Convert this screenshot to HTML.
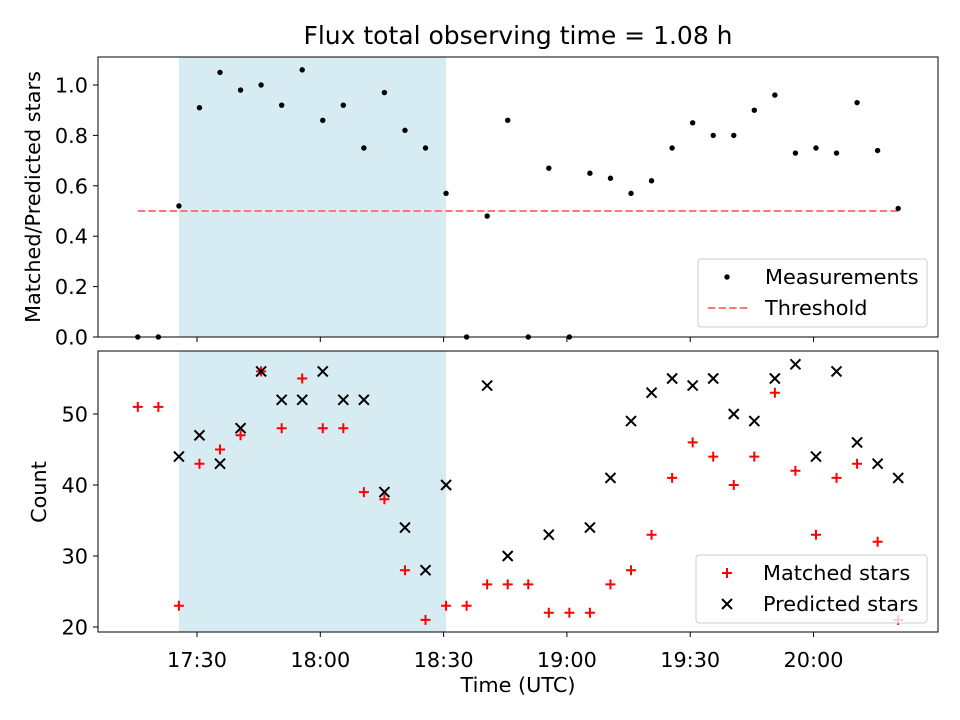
<!DOCTYPE html>
<html><head><meta charset="utf-8"><style>body{margin:0;background:#fff}svg{display:block;font-family:"DejaVu Sans","Liberation Sans",sans-serif}</style></head>
<body>
<svg id="c" width="960" height="720" xmlns="http://www.w3.org/2000/svg"></svg>
<script>
const times = [];
const t0 = 15.6;
for (let i = 0; i < 38; i++) times.push(t0 + 5 * i);
const ratio = [0,0,0.52,0.91,1.05,0.98,1.0,0.92,1.06,0.86,0.92,0.75,0.97,0.82,0.75,0.57,0,0.48,0.86,0,0.67,0,0.65,0.63,0.57,0.62,0.75,0.85,0.80,0.80,0.90,0.96,0.73,0.75,0.73,0.93,0.74,0.51];
const matched = [51,51,23,43,45,47,56,48,55,48,48,39,38,28,21,23,23,26,26,26,22,22,22,26,28,33,41,46,44,40,44,53,42,33,41,43,32,21];
const predicted = [null,null,44,47,43,48,56,52,52,56,52,52,39,34,28,40,null,54,30,null,33,null,34,41,49,53,55,54,55,50,49,55,57,44,56,46,43,41];
const xTicks = [30,60,90,120,150,180];
const xTickLabels = ["17:30","18:00","18:30","19:00","19:30","20:00"];
const yTopTicks = [0,0.2,0.4,0.6,0.8,1.0];
const yBotTicks = [20,30,40,50];
const threshold = 0.5;

const NS="http://www.w3.org/2000/svg", svg=document.getElementById('c');
function el(tag,attrs,parent){const e=document.createElementNS(NS,tag);for(const k in attrs)e.setAttribute(k,attrs[k]);(parent||svg).appendChild(e);return e;}
const L=98,R=938,FS=20.8;
const X=m=>197+(m-30)*123.3/30;
const YT=v=>337-v*252;
const YB=v=>414+(50-v)*213/30;
const topBox=[57,337], botBox=[351,632];

[topBox,botBox].forEach((b,i)=>{
  const r=el('rect',{x:X(t0+10),y:b[0],width:X(t0+75)-X(t0+10),height:b[1]-b[0],fill:'#add8e6','fill-opacity':0.5});
  
  
});
const th=el('line',{x1:X(times[0]),x2:X(times[37]),y1:YT(threshold),y2:YT(threshold),stroke:'#ff7777','stroke-width':2,'stroke-dasharray':'7.4,3.2'});


ratio.forEach((v,i)=>{const c=el('circle',{cx:X(times[i]),cy:YT(v),r:2.7,fill:'#000'});

});
function plus(x,y){return el('path',{d:`M${x-5},${y}H${x+5}M${x},${y-5}V${y+5}`,stroke:'red','stroke-width':2});}
function cross(x,y){return el('path',{d:`M${x-5},${y-5}L${x+5},${y+5}M${x-5},${y+5}L${x+5},${y-5}`,stroke:'#000','stroke-width':2});}
matched.forEach((v,i)=>{const p=plus(X(times[i]),YB(v));

});
predicted.forEach((v,i)=>{if(v===null)return;const p=cross(X(times[i]),YB(v));

});
[topBox,botBox].forEach((b,i)=>{const r=el('rect',{x:L,y:b[0],width:R-L,height:b[1]-b[0],fill:'none',stroke:'#000','stroke-width':1});

});
xTicks.forEach((m,i)=>{
  el('line',{x1:X(m),x2:X(m),y1:337,y2:342,stroke:'#000'});
  el('line',{x1:X(m),x2:X(m),y1:632,y2:637,stroke:'#000'});
  const t=el('text',{x:X(m),y:667,'font-size':FS,'text-anchor':'middle'});t.textContent=xTickLabels[i];
  
  
});
yTopTicks.forEach(v=>{el('line',{x1:L-5,x2:L,y1:YT(v),y2:YT(v),stroke:'#000'});
const t=el('text',{x:L-10,y:YT(v)+7.5,'font-size':FS,'text-anchor':'end'});t.textContent=v.toFixed(1);

});
yBotTicks.forEach(v=>{el('line',{x1:L-5,x2:L,y1:YB(v),y2:YB(v),stroke:'#000'});
const t=el('text',{x:L-10,y:YB(v)+7.5,'font-size':FS,'text-anchor':'end'});t.textContent=v;

});
function txt(s,a,name){const t=el('text',a);t.textContent=s;return t;}
txt('Flux total observing time = 1.08 h',{x:518,y:44,'font-size':25,'text-anchor':'middle'},'chart-title');
txt('Time (UTC)',{x:518,y:692,'font-size':FS,'text-anchor':'middle'},'x-axis-title');
txt('Matched/Predicted stars',{x:40,y:197,'font-size':FS,'text-anchor':'middle',transform:'rotate(-90 40 197)'},'y-top-axis-title');
txt('Count',{x:46,y:492,'font-size':FS,'text-anchor':'middle',transform:'rotate(-90 46 492)'},'y-bottom-axis-title');
const lg1=el('rect',{x:698,y:259,width:229,height:68,fill:'#fff','fill-opacity':0.8,stroke:'#ccc',rx:3});

el('circle',{cx:727,cy:277,r:2.7,fill:'#000'});
txt('Measurements',{x:765,y:284,'font-size':FS},'legend-entry');
el('line',{x1:708,x2:748,y1:308,y2:308,stroke:'#ff7777','stroke-width':2,'stroke-dasharray':'7.4,3.2'});
txt('Threshold',{x:765,y:315,'font-size':FS},'legend-entry');
const lg2=el('rect',{x:696,y:555,width:231,height:68,fill:'#fff','fill-opacity':0.8,stroke:'#ccc',rx:3});

plus(727,573);
txt('Matched stars',{x:763,y:580,'font-size':FS},'legend-entry');
cross(727,604);
txt('Predicted stars',{x:763,y:611,'font-size':FS},'legend-entry');
</script>
</body></html>
